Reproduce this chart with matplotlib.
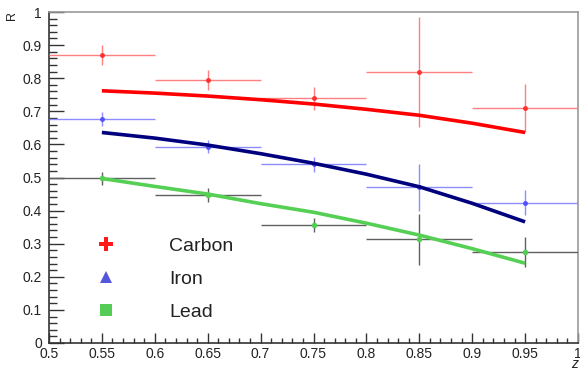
import matplotlib
matplotlib.use("Agg")
import matplotlib.pyplot as plt
from matplotlib.lines import Line2D
from matplotlib.ticker import MultipleLocator
import numpy as np

plt.rcParams['font.family'] = ['Liberation Sans', 'DejaVu Sans']

# ---- data ----
z_bins = [0.55, 0.65, 0.75, 0.85, 0.95]
z_err = [0.05, 0.05, 0.05, 0.05, 0.05]

carbon_R = [0.870, 0.795, 0.739, 0.819, 0.709]
carbon_err = [0.030, 0.030, 0.035, 0.165, 0.072]

iron_R = [0.677, 0.593, 0.540, 0.470, 0.424]
iron_err = [0.020, 0.020, 0.023, 0.070, 0.038]

lead_R = [0.497, 0.447, 0.356, 0.313, 0.276]
lead_err = [0.020, 0.020, 0.022, 0.078, 0.045]

curve_z = [0.55, 0.60, 0.65, 0.70, 0.75, 0.80, 0.85, 0.90, 0.95]
carbon_curve = [0.762, 0.755, 0.746, 0.735, 0.722, 0.706, 0.688, 0.664, 0.636]
iron_curve = [0.636, 0.619, 0.598, 0.572, 0.543, 0.510, 0.472, 0.422, 0.366]
lead_curve = [0.497, 0.473, 0.450, 0.421, 0.395, 0.362, 0.326, 0.285, 0.241]

labels = ['Carbon', 'Iron', 'Lead']
x_ticks = [0.5, 0.55, 0.6, 0.65, 0.7, 0.75, 0.8, 0.85, 0.9, 0.95, 1.0]
x_ticklabels = ['0.5', '0.55', '0.6', '0.65', '0.7', '0.75', '0.8', '0.85', '0.9', '0.95', '1']
y_ticks = [0, 0.1, 0.2, 0.3, 0.4, 0.5, 0.6, 0.7, 0.8, 0.9, 1.0]
y_ticklabels = ['0', '0.1', '0.2', '0.3', '0.4', '0.5', '0.6', '0.7', '0.8', '0.9', '1']

# ---- figure ----
fig = plt.figure(figsize=(5.8, 3.69), dpi=100)
ax = fig.add_axes([49/580, 26/369, 529/580, 331/369])

# error bars
ax.errorbar(z_bins, carbon_R, xerr=z_err, yerr=carbon_err, fmt='o', ms=2.5,
            color='#ff3030', ecolor='#ff8080', elinewidth=1.0, capsize=0, zorder=3)
ax.errorbar(z_bins, iron_R, xerr=z_err, yerr=iron_err, fmt='o', ms=2.5,
            color='#5050ff', ecolor='#8c8cff', elinewidth=1.0, capsize=0, zorder=3)
ax.errorbar(z_bins, lead_R, xerr=z_err, yerr=lead_err, fmt='o', ms=3,
            color='#50d050', ecolor='#606060', elinewidth=1.0, capsize=0, zorder=3)

# curves
ax.plot(curve_z, carbon_curve, color='#ff0000', lw=2.6, solid_capstyle='butt', zorder=4)
ax.plot(curve_z, iron_curve, color='#00007f', lw=2.6, solid_capstyle='butt', zorder=4)
ax.plot(curve_z, lead_curve, color='#55d055', lw=2.6, solid_capstyle='butt', zorder=4)

ax.set_xlim(0.5, 1.0)
ax.set_ylim(0, 1.0)
ax.set_xticks(x_ticks)
ax.set_xticklabels(x_ticklabels)
ax.set_yticks(y_ticks)
ax.set_yticklabels(y_ticklabels)
ax.xaxis.set_minor_locator(MultipleLocator(0.01))
ax.yaxis.set_minor_locator(MultipleLocator(0.02))

ax.tick_params(axis='both', which='both', direction='in', colors='#333333',
               labelcolor='#222222', labelsize=10, width=1.0)
ax.tick_params(axis='y', which='major', length=11, pad=5)
ax.tick_params(axis='y', which='minor', length=6)
ax.tick_params(axis='x', which='major', length=7, pad=3)
ax.tick_params(axis='x', which='minor', length=3.5)

for s in ['left', 'bottom']:
    ax.spines[s].set_color('#333333')
    ax.spines[s].set_linewidth(1.2)
for s in ['top', 'right']:
    ax.spines[s].set_color('#9a9a9a')
    ax.spines[s].set_linewidth(1.2)

# axis titles
fig.text(12/580, 1 - 16/369, 'R', rotation=90, ha='center', va='center', fontsize=9, color='#222222')
fig.text(575/580, 1 - 371/369, 'z', ha='center', va='bottom', fontsize=10, color='#222222', style='italic')

# legend
handles = [
    Line2D([], [], linestyle='none', marker='P', markersize=10, color='#ff1a1a', markeredgewidth=0),
    Line2D([], [], linestyle='none', marker='^', markersize=8, color='#5555dd', markeredgewidth=0),
    Line2D([], [], linestyle='none', marker='s', markersize=9, color='#55cc55', markeredgewidth=0),
]
leg = ax.legend(handles, labels, loc='upper left', bbox_to_anchor=((96 - 49) / 529, (343 - 237) / 331),
                frameon=False, fontsize=14, handlelength=1.0, handletextpad=2.75,
                labelspacing=0.8, borderpad=0, borderaxespad=0)
for t in leg.get_texts():
    t.set_color('#222222')

fig.savefig('out.png', dpi=100)
